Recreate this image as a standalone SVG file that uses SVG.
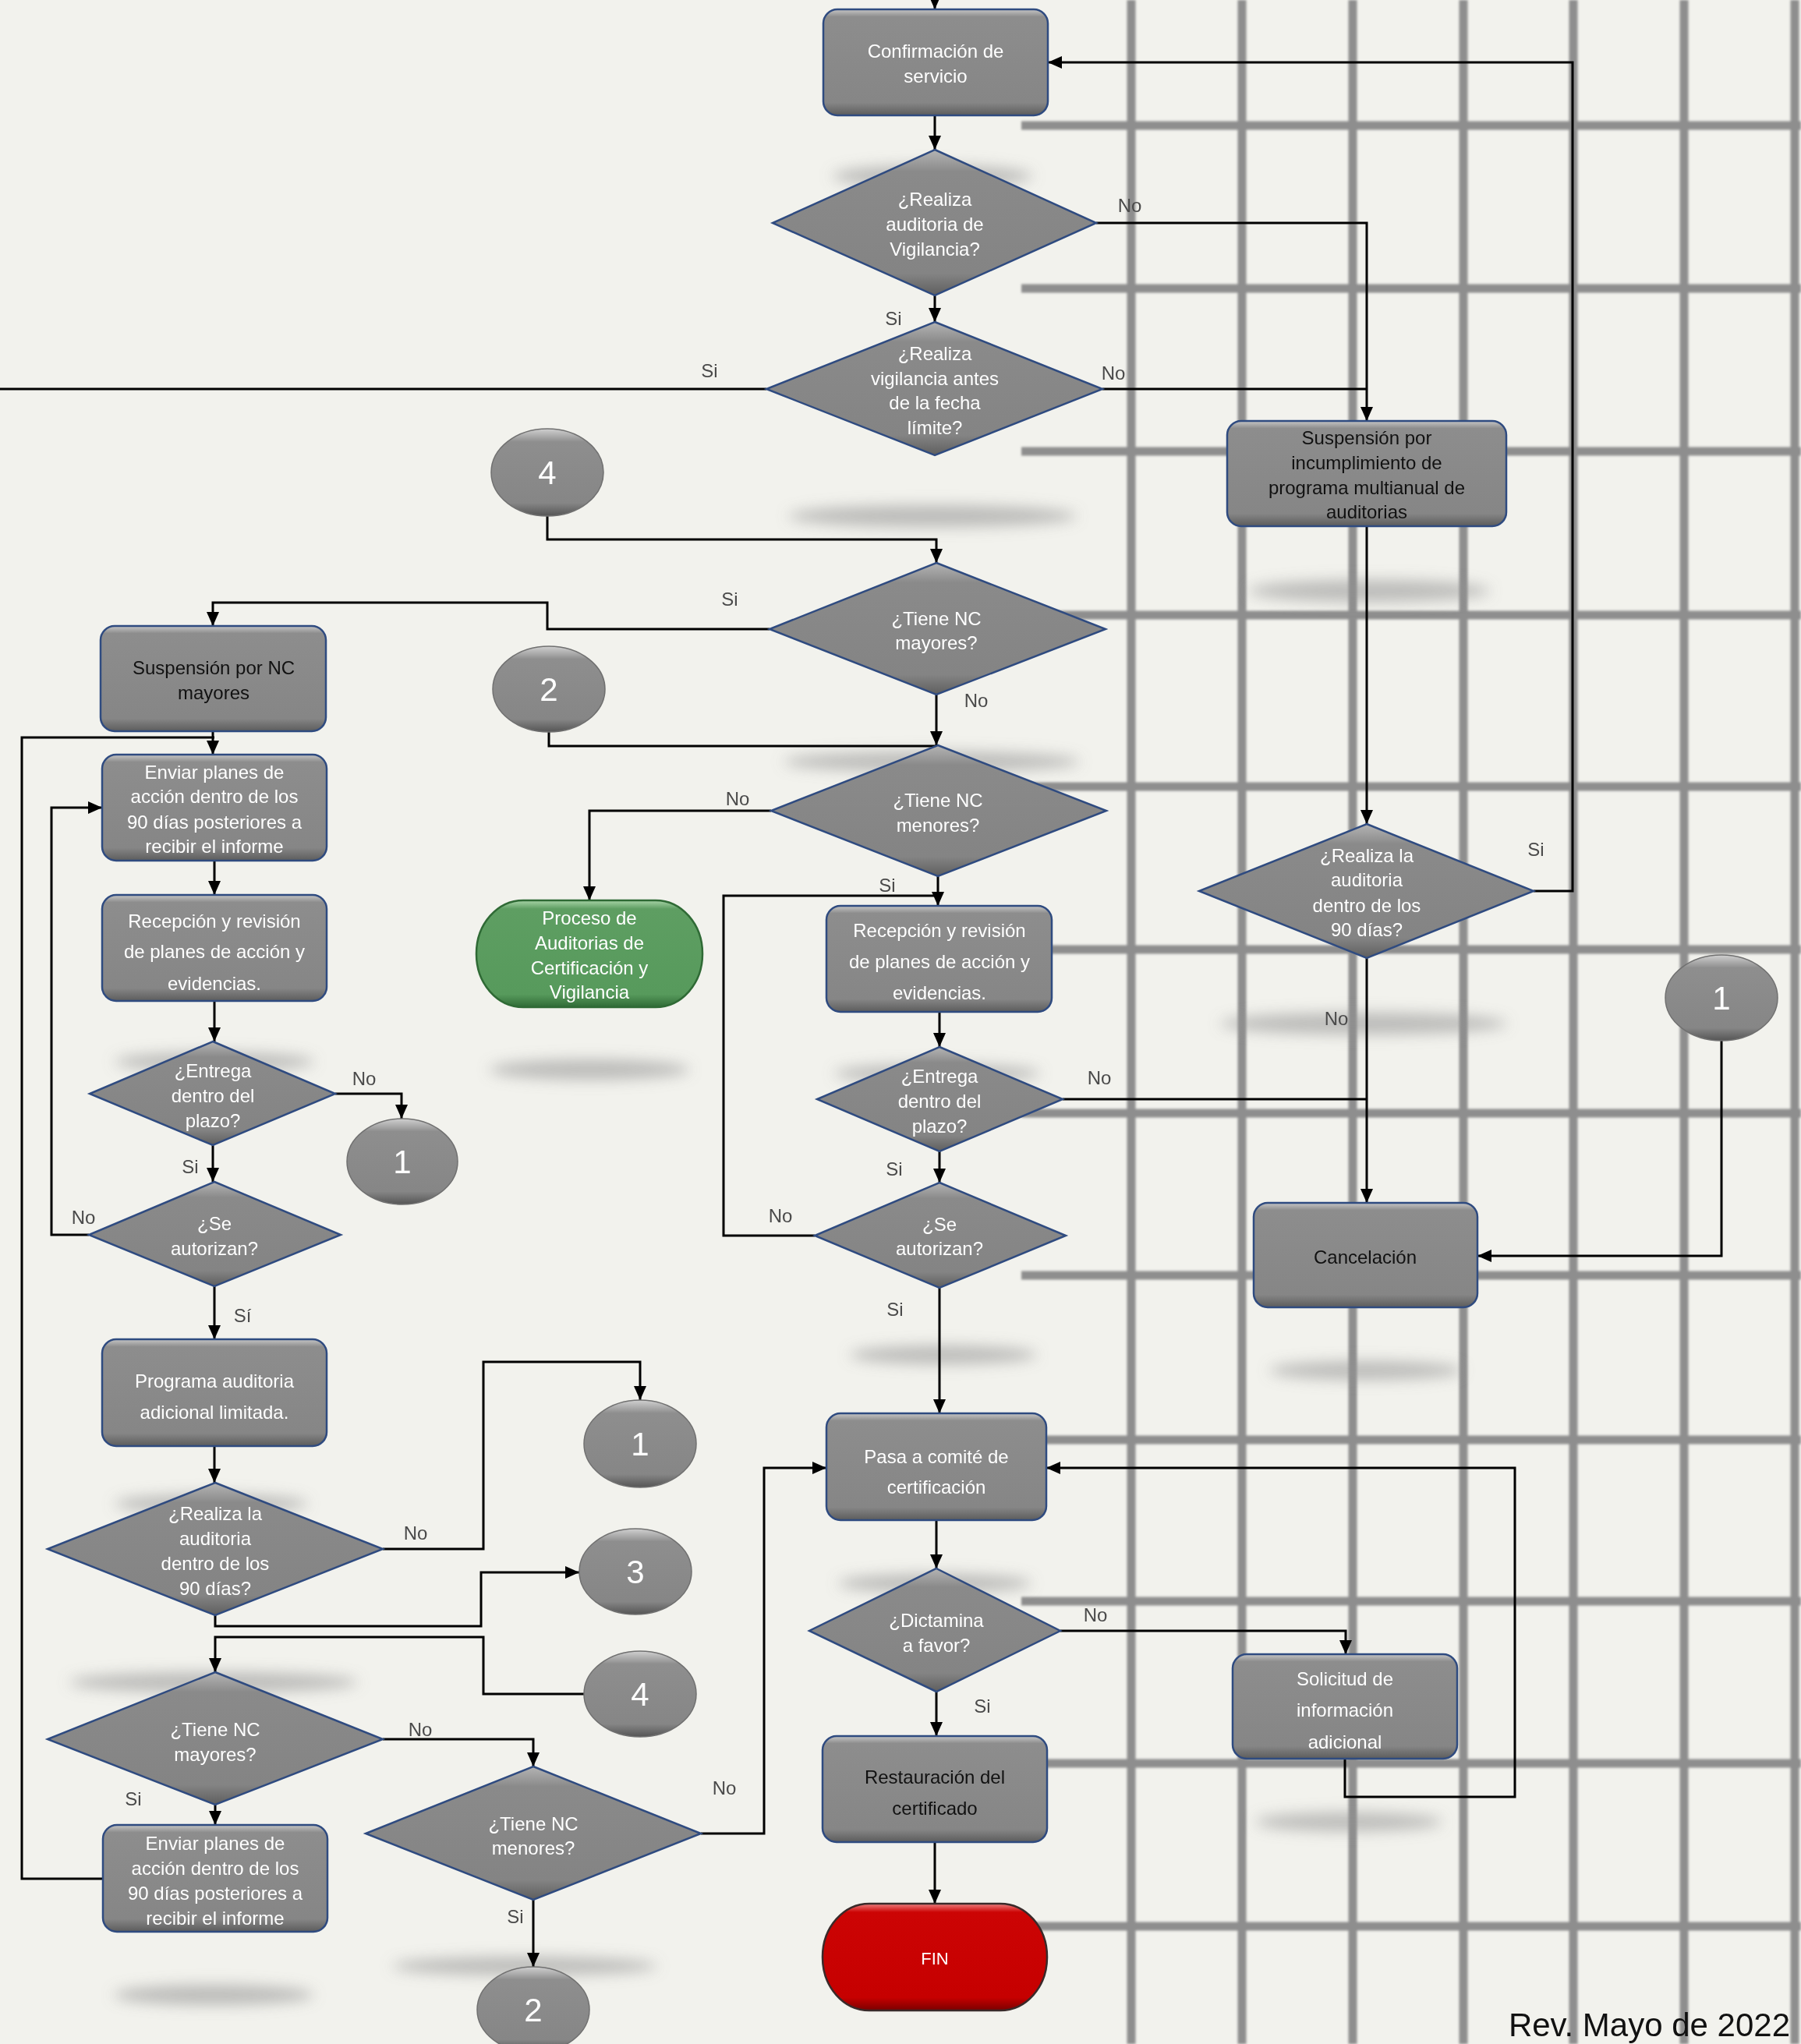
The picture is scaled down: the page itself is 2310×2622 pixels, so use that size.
<svg xmlns="http://www.w3.org/2000/svg" width="2310" height="2622" viewBox="0 0 2310 2622">
<defs>
<style>
.t{font-family:"Liberation Sans",Arial,sans-serif;font-size:24px;text-anchor:middle;fill:#ffffff}
.tb{fill:#111111}
.num{font-size:42px}
.lbl{font-family:"Liberation Sans",Arial,sans-serif;font-size:24px;text-anchor:middle;fill:#4a4a4a}
.box{fill:url(#gBox);stroke:#2f4b80;stroke-width:2.5}
.dia{fill:url(#gDia);stroke:#2f4b80;stroke-width:2.5}
.circ{fill:url(#gCirc);stroke:#707070;stroke-width:1.5}
.conn path{fill:none;stroke:#000;stroke-width:3}
.grid line{stroke:#8e8e8e;stroke-width:11}
.sh{fill:#8f8f8f;opacity:0.55}
</style>
<linearGradient id="gBox" x1="0" y1="0" x2="0" y2="1">
<stop offset="0" stop-color="#c6c6c6"/>
<stop offset="0.07" stop-color="#8d8d8d"/>
<stop offset="0.88" stop-color="#868686"/>
<stop offset="1" stop-color="#5c5c5c"/>
</linearGradient>
<linearGradient id="gDia" x1="0" y1="0" x2="0" y2="1">
<stop offset="0" stop-color="#b4b4b4"/>
<stop offset="0.15" stop-color="#8a8a8a"/>
<stop offset="0.85" stop-color="#848484"/>
<stop offset="1" stop-color="#5e5e5e"/>
</linearGradient>
<linearGradient id="gCirc" x1="0" y1="0" x2="0" y2="1">
<stop offset="0" stop-color="#d0d0d0"/>
<stop offset="0.15" stop-color="#8e8e8e"/>
<stop offset="0.85" stop-color="#868686"/>
<stop offset="1" stop-color="#555555"/>
</linearGradient>
<linearGradient id="gGreen" x1="0" y1="0" x2="0" y2="1">
<stop offset="0" stop-color="#a8d4a8"/>
<stop offset="0.08" stop-color="#5e9e62"/>
<stop offset="0.88" stop-color="#579a5c"/>
<stop offset="1" stop-color="#2f6a35"/>
</linearGradient>
<linearGradient id="gRed" x1="0" y1="0" x2="0" y2="1">
<stop offset="0" stop-color="#ee8080"/>
<stop offset="0.08" stop-color="#cc0404"/>
<stop offset="0.88" stop-color="#c60000"/>
<stop offset="1" stop-color="#7a0000"/>
</linearGradient>
<filter id="blur" x="-20%" y="-200%" width="140%" height="500%"><feGaussianBlur stdDeviation="9"/></filter>
<filter id="soft" x="-5%" y="-5%" width="110%" height="110%"><feGaussianBlur stdDeviation="1.5"/></filter>
<marker id="ah" markerWidth="18" markerHeight="16" refX="18" refY="8" orient="auto" markerUnits="userSpaceOnUse"><path d="M0,0 L18,8 L0,16 z" fill="#000"/></marker>
</defs>

<rect x="0" y="0" width="2310" height="2622" fill="#f2f2ed"/>

<g class="grid" filter="url(#soft)">
<line x1="1451" y1="0" x2="1451" y2="2622"/>
<line x1="1593" y1="0" x2="1593" y2="2622"/>
<line x1="1735" y1="0" x2="1735" y2="2622"/>
<line x1="1877" y1="0" x2="1877" y2="2622"/>
<line x1="2018" y1="0" x2="2018" y2="2622"/>
<line x1="2160" y1="0" x2="2160" y2="2622"/>
<line x1="2302" y1="0" x2="2302" y2="2622"/>
<line x1="1310" y1="161" x2="2310" y2="161"/>
<line x1="1310" y1="370" x2="2310" y2="370"/>
<line x1="1310" y1="579" x2="2310" y2="579"/>
<line x1="1310" y1="789" x2="2310" y2="789"/>
<line x1="1310" y1="1009" x2="2310" y2="1009"/>
<line x1="1310" y1="1218" x2="2310" y2="1218"/>
<line x1="1310" y1="1428" x2="2310" y2="1428"/>
<line x1="1310" y1="1636" x2="2310" y2="1636"/>
<line x1="1310" y1="1847" x2="2310" y2="1847"/>
<line x1="1310" y1="2054" x2="2310" y2="2054"/>
<line x1="1310" y1="2262" x2="2310" y2="2262"/>
<line x1="1310" y1="2471" x2="2310" y2="2471"/>
</g>

<g id="shadows" filter="url(#blur)">
<ellipse class="sh" cx="1196" cy="226" rx="128" ry="14"/>
<ellipse class="sh" cx="1196" cy="662" rx="185" ry="14"/>
<ellipse class="sh" cx="1756" cy="758" rx="155" ry="14"/>
<ellipse class="sh" cx="1195" cy="977" rx="190" ry="13"/>
<ellipse class="sh" cx="1202" cy="1377" rx="132" ry="12"/>
<ellipse class="sh" cx="1210" cy="1738" rx="120" ry="12"/>
<ellipse class="sh" cx="275" cy="1362" rx="128" ry="12"/>
<ellipse class="sh" cx="756" cy="1372" rx="128" ry="13"/>
<ellipse class="sh" cx="1749" cy="1313" rx="184" ry="14"/>
<ellipse class="sh" cx="1752" cy="1758" rx="124" ry="12"/>
<ellipse class="sh" cx="271" cy="1929" rx="124" ry="12"/>
<ellipse class="sh" cx="274" cy="2158" rx="185" ry="13"/>
<ellipse class="sh" cx="1199" cy="2031" rx="124" ry="12"/>
<ellipse class="sh" cx="1730" cy="2337" rx="120" ry="12"/>
<ellipse class="sh" cx="673" cy="2522" rx="170" ry="12"/>
<ellipse class="sh" cx="274" cy="2559" rx="128" ry="13"/>
</g>

<g id="connectors" class="conn">
<path d="M1199,0 V12" marker-end="url(#ah)"/>
<path d="M1199,148 V192" marker-end="url(#ah)"/>
<path d="M1199,379 V413" marker-end="url(#ah)"/>
<path d="M1406,286 H1753 V540" marker-end="url(#ah)"/>
<path d="M1414,499 H1753"/>
<path d="M983,499 H0"/>
<path d="M1753,675 V1057" marker-end="url(#ah)"/>
<path d="M1967,1143 H2017 V80 H1344" marker-end="url(#ah)"/>
<path d="M1753,1229 V1543" marker-end="url(#ah)"/>
<path d="M2208,1334 V1611 H1895" marker-end="url(#ah)"/>
<path d="M1363,1410 H1753"/>
<path d="M702,662 V692 H1201 V722" marker-end="url(#ah)"/>
<path d="M987,807 H702 V773 H273 V803" marker-end="url(#ah)"/>
<path d="M1201,891 V956" marker-end="url(#ah)"/>
<path d="M704,939 V957 H1201"/>
<path d="M989,1040 H756 V1155" marker-end="url(#ah)"/>
<path d="M1203,1124 V1162" marker-end="url(#ah)"/>
<path d="M1045,1585 H928 V1149 H1203"/>
<path d="M1205,1298 V1343" marker-end="url(#ah)"/>
<path d="M1205,1477 V1517" marker-end="url(#ah)"/>
<path d="M1205,1652 V1813" marker-end="url(#ah)"/>
<path d="M1201,1950 V2012" marker-end="url(#ah)"/>
<path d="M1360,2092 H1726 V2122" marker-end="url(#ah)"/>
<path d="M1725,2256 V2305 H1943 V1883 H1342" marker-end="url(#ah)"/>
<path d="M1201,2170 V2227" marker-end="url(#ah)"/>
<path d="M1199,2363 V2442" marker-end="url(#ah)"/>
<path d="M273,938 V968" marker-end="url(#ah)"/>
<path d="M132,2410 H28 V946 H275"/>
<path d="M114,1584 H66 V1036 H131" marker-end="url(#ah)"/>
<path d="M275,1104 V1148" marker-end="url(#ah)"/>
<path d="M275,1284 V1336" marker-end="url(#ah)"/>
<path d="M430,1403 H515 V1435" marker-end="url(#ah)"/>
<path d="M273,1469 V1516" marker-end="url(#ah)"/>
<path d="M275,1650 V1718" marker-end="url(#ah)"/>
<path d="M275,1855 V1902" marker-end="url(#ah)"/>
<path d="M491,1987 H620 V1747 H821 V1796" marker-end="url(#ah)"/>
<path d="M276,2072 V2086 H617 V2017 H743" marker-end="url(#ah)"/>
<path d="M749,2173 H620 V2100 H276 V2145" marker-end="url(#ah)"/>
<path d="M491,2231 H684 V2266" marker-end="url(#ah)"/>
<path d="M276,2315 V2341" marker-end="url(#ah)"/>
<path d="M899,2352 H980 V1883 H1060" marker-end="url(#ah)"/>
<path d="M684,2437 V2523" marker-end="url(#ah)"/>
</g>

<g id="labels" class="lbl">
<text x="1449" y="272">No</text>
<text x="1146" y="417">Si</text>
<text x="1428" y="487">No</text>
<text x="910" y="484">Si</text>
<text x="1970" y="1098">Si</text>
<text x="1714" y="1315">No</text>
<text x="936" y="777">Si</text>
<text x="1252" y="907">No</text>
<text x="946" y="1033">No</text>
<text x="1138" y="1144">Si</text>
<text x="1410" y="1391">No</text>
<text x="1147" y="1508">Si</text>
<text x="1001" y="1568">No</text>
<text x="1148" y="1688">Si</text>
<text x="1405" y="2080">No</text>
<text x="1260" y="2197">Si</text>
<text x="467" y="1392">No</text>
<text x="244" y="1505">Si</text>
<text x="107" y="1570">No</text>
<text x="311" y="1696">Sí</text>
<text x="533" y="1975">No</text>
<text x="539" y="2227">No</text>
<text x="171" y="2316">Si</text>
<text x="929" y="2302">No</text>
<text x="661" y="2467">Si</text>
</g>

<g id="n-confirmacion">
<rect class="box" x="1056" y="12" width="288" height="136" rx="18"/>
<text class="t" x="1200" y="74">Confirmación de</text>
<text class="t" x="1200" y="106">servicio</text>
</g>
<g id="d-realiza-vigilancia">
<polygon class="dia" points="1199,192 1406,286 1199,379 991,286"/>
<text class="t" x="1199" y="264">¿Realiza</text>
<text class="t" x="1199" y="296">auditoria de</text>
<text class="t" x="1199" y="328">Vigilancia?</text>
</g>
<g id="d-vigilancia-antes">
<polygon class="dia" points="1199,413 1414,499 1199,584 983,499"/>
<text class="t" x="1199" y="462">¿Realiza</text>
<text class="t" x="1199" y="494">vigilancia antes</text>
<text class="t" x="1199" y="525">de la fecha</text>
<text class="t" x="1199" y="557">límite?</text>
</g>
<g id="n-suspension-incumplimiento">
<rect class="box" x="1574" y="540" width="358" height="135" rx="18"/>
<text class="t tb" x="1753" y="570">Suspensión por</text>
<text class="t tb" x="1753" y="602">incumplimiento de</text>
<text class="t tb" x="1753" y="634">programa multianual de</text>
<text class="t tb" x="1753" y="665">auditorias</text>
</g>
<g id="d-realiza-90-right">
<polygon class="dia" points="1753,1057 1967,1143 1753,1229 1538,1143"/>
<text class="t" x="1753" y="1106">¿Realiza la</text>
<text class="t" x="1753" y="1137">auditoria</text>
<text class="t" x="1753" y="1170">dentro de los</text>
<text class="t" x="1753" y="1201">90 días?</text>
</g>
<g id="n-cancelacion">
<rect class="box" x="1608" y="1543" width="287" height="134" rx="18"/>
<text class="t tb" x="1751" y="1621">Cancelación</text>
</g>
<g id="c1-right">
<ellipse class="circ" cx="2208" cy="1280" rx="72" ry="55"/>
<text class="t num" x="2208" y="1295">1</text>
</g>
<g id="c4-top">
<ellipse class="circ" cx="702" cy="606" rx="72" ry="56"/>
<text class="t num" x="702" y="621">4</text>
</g>
<g id="d-nc-mayores-mid">
<polygon class="dia" points="1201,722 1418,807 1201,891 987,807"/>
<text class="t" x="1201" y="802">¿Tiene NC</text>
<text class="t" x="1201" y="833">mayores?</text>
</g>
<g id="c2-mid">
<ellipse class="circ" cx="704" cy="884" rx="72" ry="55"/>
<text class="t num" x="704" y="899">2</text>
</g>
<g id="d-nc-menores-mid">
<polygon class="dia" points="1203,956 1419,1040 1203,1124 989,1040"/>
<text class="t" x="1203" y="1035">¿Tiene NC</text>
<text class="t" x="1203" y="1067">menores?</text>
</g>
<g id="n-proceso">
<rect x="611" y="1155" width="290" height="137" rx="60" ry="68" fill="url(#gGreen)" stroke="#2f6a35" stroke-width="2.5"/>
<text class="t" x="756" y="1186">Proceso de</text>
<text class="t" x="756" y="1218">Auditorias de</text>
<text class="t" x="756" y="1250">Certificación y</text>
<text class="t" x="756" y="1281">Vigilancia</text>
</g>
<g id="n-recepcion-mid">
<rect class="box" x="1060" y="1162" width="289" height="136" rx="18"/>
<text class="t" x="1205" y="1202">Recepción y revisión</text>
<text class="t" x="1205" y="1242">de planes de acción y</text>
<text class="t" x="1205" y="1282">evidencias.</text>
</g>
<g id="d-entrega-mid">
<polygon class="dia" points="1205,1343 1363,1410 1205,1477 1048,1410"/>
<text class="t" x="1205" y="1389">¿Entrega</text>
<text class="t" x="1205" y="1421">dentro del</text>
<text class="t" x="1205" y="1453">plazo?</text>
</g>
<g id="d-autorizan-mid">
<polygon class="dia" points="1205,1517 1367,1585 1205,1652 1045,1585"/>
<text class="t" x="1205" y="1579">¿Se</text>
<text class="t" x="1205" y="1610">autorizan?</text>
</g>
<g id="n-pasa-comite">
<rect class="box" x="1060" y="1813" width="282" height="137" rx="18"/>
<text class="t" x="1201" y="1877">Pasa a comité de</text>
<text class="t" x="1201" y="1916">certificación</text>
</g>
<g id="d-dictamina">
<polygon class="dia" points="1201,2012 1360,2092 1201,2170 1038,2092"/>
<text class="t" x="1201" y="2087">¿Dictamina</text>
<text class="t" x="1201" y="2119">a favor?</text>
</g>
<g id="n-solicitud">
<rect class="box" x="1581" y="2122" width="288" height="134" rx="18"/>
<text class="t" x="1725" y="2162">Solicitud de</text>
<text class="t" x="1725" y="2202">información</text>
<text class="t" x="1725" y="2243">adicional</text>
</g>
<g id="n-restauracion">
<rect class="box" x="1055" y="2227" width="288" height="136" rx="18"/>
<text class="t tb" x="1199" y="2288">Restauración del</text>
<text class="t tb" x="1199" y="2328">certificado</text>
</g>
<g id="n-fin">
<rect x="1055" y="2442" width="288" height="137" rx="60" ry="68" fill="url(#gRed)" stroke="#3a2a2a" stroke-width="2.5"/>
<text class="t" x="1199" y="2520" style="font-size:22px">FIN</text>
</g>
<g id="n-suspension-nc">
<rect class="box" x="129" y="803" width="289" height="135" rx="18"/>
<text class="t tb" x="274" y="865">Suspensión por NC</text>
<text class="t tb" x="274" y="897">mayores</text>
</g>
<g id="n-enviar-top">
<rect class="box" x="131" y="968" width="288" height="136" rx="18"/>
<text class="t" x="275" y="999">Enviar planes de</text>
<text class="t" x="275" y="1030">acción dentro de los</text>
<text class="t" x="275" y="1063">90 días posteriores a</text>
<text class="t" x="275" y="1094">recibir el informe</text>
</g>
<g id="n-recepcion-left">
<rect class="box" x="131" y="1148" width="288" height="136" rx="18"/>
<text class="t" x="275" y="1190">Recepción y revisión</text>
<text class="t" x="275" y="1229">de planes de acción y</text>
<text class="t" x="275" y="1270">evidencias.</text>
</g>
<g id="d-entrega-left">
<polygon class="dia" points="273,1336 430,1403 273,1469 115,1403"/>
<text class="t" x="273" y="1382">¿Entrega</text>
<text class="t" x="273" y="1414">dentro del</text>
<text class="t" x="273" y="1446">plazo?</text>
</g>
<g id="c1-left">
<ellipse class="circ" cx="516" cy="1490" rx="71" ry="55"/>
<text class="t num" x="516" y="1505">1</text>
</g>
<g id="d-autorizan-left">
<polygon class="dia" points="275,1516 437,1584 275,1650 114,1584"/>
<text class="t" x="275" y="1578">¿Se</text>
<text class="t" x="275" y="1610">autorizan?</text>
</g>
<g id="n-programa">
<rect class="box" x="131" y="1718" width="288" height="137" rx="18"/>
<text class="t" x="275" y="1780">Programa auditoria</text>
<text class="t" x="275" y="1820">adicional limitada.</text>
</g>
<g id="c1-lower">
<ellipse class="circ" cx="821" cy="1852" rx="72" ry="56"/>
<text class="t num" x="821" y="1867">1</text>
</g>
<g id="d-realiza-90-left">
<polygon class="dia" points="276,1902 491,1987 276,2072 61,1987"/>
<text class="t" x="276" y="1950">¿Realiza la</text>
<text class="t" x="276" y="1982">auditoria</text>
<text class="t" x="276" y="2014">dentro de los</text>
<text class="t" x="276" y="2046">90 días?</text>
</g>
<g id="c3">
<ellipse class="circ" cx="815" cy="2016" rx="72" ry="55"/>
<text class="t num" x="815" y="2031">3</text>
</g>
<g id="c4-lower">
<ellipse class="circ" cx="821" cy="2173" rx="72" ry="55"/>
<text class="t num" x="821" y="2188">4</text>
</g>
<g id="d-nc-mayores-lower">
<polygon class="dia" points="276,2145 491,2231 276,2315 61,2231"/>
<text class="t" x="276" y="2227">¿Tiene NC</text>
<text class="t" x="276" y="2259">mayores?</text>
</g>
<g id="d-nc-menores-lower">
<polygon class="dia" points="684,2266 899,2352 684,2437 469,2352"/>
<text class="t" x="684" y="2348">¿Tiene NC</text>
<text class="t" x="684" y="2379">menores?</text>
</g>
<g id="n-enviar-lower">
<rect class="box" x="132" y="2341" width="288" height="137" rx="18"/>
<text class="t" x="276" y="2373">Enviar planes de</text>
<text class="t" x="276" y="2405">acción dentro de los</text>
<text class="t" x="276" y="2437">90 días posteriores a</text>
<text class="t" x="276" y="2469">recibir el informe</text>
</g>
<g id="c2-lower">
<ellipse class="circ" cx="684" cy="2578" rx="72" ry="55"/>
<text class="t num" x="684" y="2593">2</text>
</g>

<text x="2296" y="2612" style="font-family:'Liberation Sans',Arial,sans-serif;font-size:42px;fill:#111;text-anchor:end">Rev. Mayo de 2022</text>
</svg>
